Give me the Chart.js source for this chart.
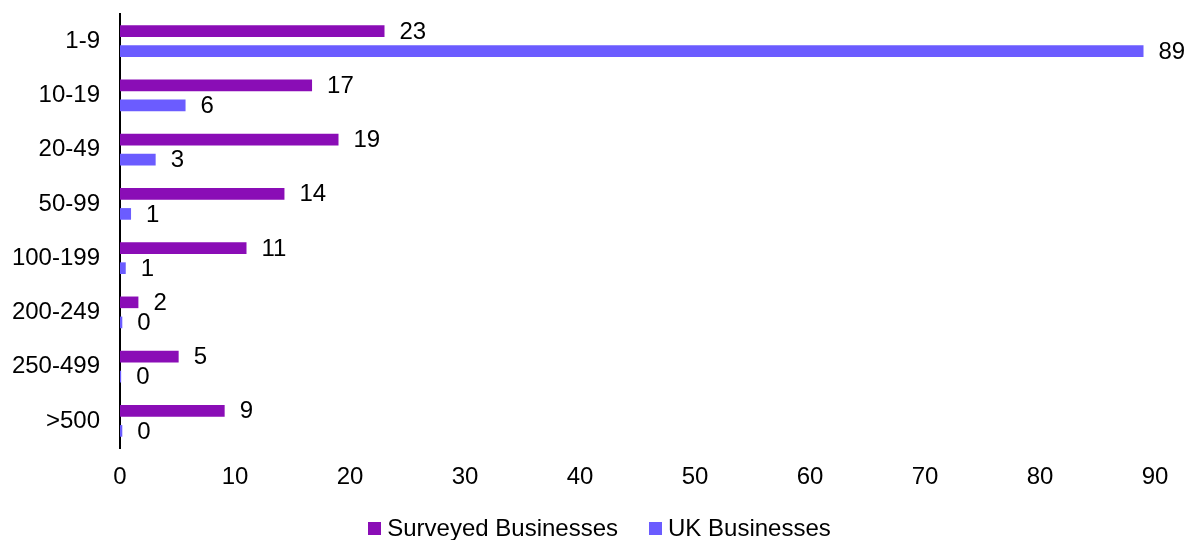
<!DOCTYPE html>
<html>
<head>
<meta charset="utf-8">
<script src="https://cdn.jsdelivr.net/npm/chart.js@4/dist/chart.umd.min.js"></script>
<style>
  html, body { margin: 0; padding: 0; background: #fff; }
  #wrap { width: 1189px; height: 540px; position: relative; }
  #legend {
    position: absolute; left: 0; right: 0; top: 514px;
    display: flex; justify-content: center; gap: 31px;
    font: 24px 'Liberation Sans', Arial, sans-serif; color: #000;
    padding-left: 10px;
  }
  .item { display: flex; align-items: center; gap: 6px; line-height: 28px; }
  .swatch { width: 13px; height: 13px; display: inline-block; }
</style>
</head>
<body>
<div id="wrap">
  <canvas id="chart"></canvas>
  <div id="legend"></div>
</div>
<script>
const sizeBands = ["1-9", "10-19", "20-49", "50-99", "100-199", "200-249", "250-499", ">500"];
const surveyedValues = [23.0, 16.7, 19.0, 14.3, 11.0, 1.6, 5.1, 9.1];
const ukValues = [89.0, 5.7, 3.1, 0.96, 0.5, 0.2, 0.1, 0.2];
const surveyedLabels = ["23", "17", "19", "14", "11", "2", "5", "9"];
const ukLabels = ["89", "6", "3", "1", "1", "0", "0", "0"];
const xTicks = [0, 10, 20, 30, 40, 50, 60, 70, 80, 90];

const FONT = "'Liberation Sans', Arial, sans-serif";
const FONT_SIZE = 24;

const valueLabels = {
  id: "valueLabels",
  afterDatasetsDraw(chart) {
    const ctx = chart.ctx;
    ctx.save();
    ctx.font = `${FONT_SIZE}px ${FONT}`;
    ctx.fillStyle = "#000";
    ctx.textAlign = "left";
    ctx.textBaseline = "middle";
    chart.data.datasets.forEach((dataset, i) => {
      chart.getDatasetMeta(i).data.forEach((bar, j) => {
        ctx.fillText(dataset.valueText[j], bar.x + 15, bar.y + 1);
      });
    });
    ctx.restore();
  },
};

const chart = new Chart(document.getElementById("chart"), {
  type: "bar",
  data: {
    labels: sizeBands,
    datasets: [
      {
        label: "Surveyed Businesses",
        data: surveyedValues,
        valueText: surveyedLabels,
        backgroundColor: "#8A0DB6",
        categoryPercentage: 0.74,
        barPercentage: 0.58,
      },
      {
        label: "UK Businesses",
        data: ukValues,
        valueText: ukLabels,
        backgroundColor: "#6B5CFF",
        categoryPercentage: 0.74,
        barPercentage: 0.58,
      },
    ],
  },
  options: {
    indexAxis: "y",
    responsive: true,
    maintainAspectRatio: false,
    animation: false,
    layout: { padding: { top: 14, right: 34, left: 0, bottom: 0 } },
    plugins: {
      tooltip: { enabled: false },
      legend: { display: false },
    },
    scales: {
      x: {
        min: xTicks[0],
        max: xTicks[xTicks.length - 1],
        afterBuildTicks(scale) {
          scale.ticks = xTicks.map((value) => ({ value }));
        },
        grid: { display: false, drawTicks: false },
        border: { display: false },
        ticks: {
          color: "#000",
          padding: 15,
          font: { family: FONT, size: FONT_SIZE },
        },
        afterFit(scale) {
          scale.height = 92;
        },
      },
      y: {
        grid: { display: false, drawTicks: false },
        border: { display: true, color: "#000", width: 2 },
        ticks: {
          color: "#000",
          padding: 20,
          font: { family: FONT, size: FONT_SIZE },
        },
        afterFit(scale) {
          scale.width = 120;
          scale.paddingTop = 0;
          scale.paddingBottom = 0;
        },
      },
    },
  },
  plugins: [valueLabels],
});

document.getElementById("legend").innerHTML = chart.data.datasets
  .map(
    (dataset) => `
      <span class="item">
        <span class="swatch" style="background:${dataset.backgroundColor}"></span>
        <span>${dataset.label}</span>
      </span>
    `,
  )
  .join("");
</script>
</body>
</html>
